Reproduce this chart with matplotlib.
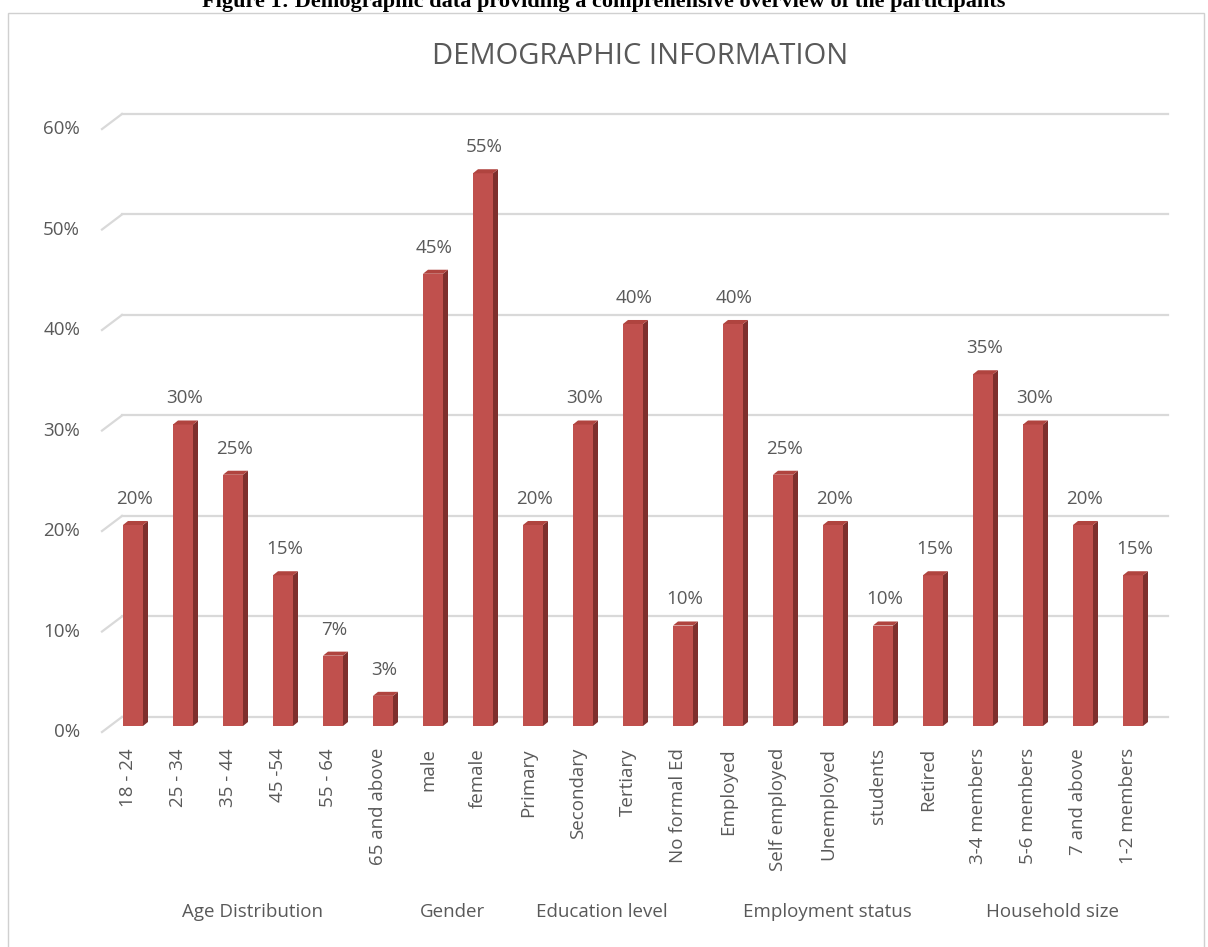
import matplotlib
matplotlib.use("Agg")
import matplotlib.pyplot as plt
from matplotlib.patches import Rectangle, Polygon

# data
categories = ['18 - 24', '25 - 34', '35 - 44', '45 -54', '55 - 64', '65 and above',
              'male', 'female',
              'Primary', 'Secondary', 'Tertiary', 'No formal Ed',
              'Employed', 'Self employed', 'Unemployed', 'students', 'Retired',
              '3-4 members', '5-6 members', '7 and above', '1-2 members']
values = [20, 30, 25, 15, 7, 3,
          45, 55,
          20, 30, 40, 10,
          40, 25, 20, 10, 15,
          35, 30, 20, 15]
groups = ['Age Distribution', 'Gender', 'Education level', 'Employment status', 'Household size']
group_sizes = [6, 2, 4, 5, 4]
yticks = [0, 10, 20, 30, 40, 50, 60]

grey = '#595959'
front = '#c0504d'
side = '#7e2f2d'
top = '#b0443f'
grid = '#d9d9d9'

fig = plt.figure(figsize=(12.08, 9.47), dpi=100)
ax = fig.add_axes([0, 0, 1, 1])
# 1 slot = 50 px, 1% = 10.05 px
ax.set_xlim(-133 / 50, (1208 - 133) / 50)
ax.set_ylim(-(947 - 726) / 10.05, 726 / 10.05)
ax.axis('off')

fig.patches.append(Rectangle((8 / 1208, -0.01), 1196 / 1208, 1 - 13 / 947 + 0.01,
                             transform=fig.transFigure, fill=False,
                             edgecolor='#d0d0d0', lw=1))

# caption sits half outside the picture, as in the source
fig.text(0.5, 1 - 7 / 947, 'Figure 1: Demographic data providing a comprehensive overview of the participants',
         ha='center', va='baseline', fontsize=16, fontweight='bold',
         family=['Liberation Serif', 'DejaVu Serif'], color='black')

ax.text(10.14, 66.6, 'DEMOGRAPHIC INFORMATION', ha='center', va='center',
        fontsize=21, color=grey, family=['Open Sans', 'DejaVu Sans'])

# 3d-ish gridlines: back line + short diagonal on the left
gx0, gx1, gx2 = -0.62, -0.22, 20.7
for t in yticks:
    ax.plot([gx1, gx2], [t + 0.9, t + 0.9], color=grid, lw=1.6, zorder=1)
    ax.plot([gx0, gx1], [t - 0.6, t + 0.9], color=grid, lw=1.6, zorder=1)
    ax.text(-1.06, t - 0.6, f'{t}%', ha='right', va='center', fontsize=13.5,
            color=grey, family=['Open Sans', 'DejaVu Sans'])

w = 0.4
dx, dy = 0.1, 0.4
for i, v in enumerate(values):
    x0 = i - w / 2
    ax.add_patch(Rectangle((x0, 0), w, v, facecolor=front, edgecolor='none', zorder=3))
    ax.add_patch(Polygon([(x0 + w, 0), (x0 + w + dx, dy), (x0 + w + dx, v + dy), (x0 + w, v)],
                         closed=True, facecolor=side, edgecolor='none', zorder=3))
    ax.add_patch(Polygon([(x0, v), (x0 + dx, v + dy), (x0 + w + dx, v + dy), (x0 + w, v)],
                         closed=True, facecolor=top, edgecolor='none', zorder=3))
    ax.text(i + 0.03, v + 2.6, f'{v}%', ha='center', va='center', fontsize=13.5,
            color=grey, family=['Open Sans', 'DejaVu Sans'])
    ax.text(i - 0.1, -2.2, categories[i], ha='center', va='top', rotation=90,
            fontsize=13.5, color=grey, family=['Open Sans', 'DejaVu Sans'])

start = 0
for g, n in zip(groups, group_sizes):
    cx = start + (n - 1) / 2 - 0.12
    ax.text(cx, -18.5, g, ha='center', va='center', fontsize=13.5,
            color=grey, family=['Open Sans', 'DejaVu Sans'])
    start += n

fig.savefig('out.png', dpi=100)
